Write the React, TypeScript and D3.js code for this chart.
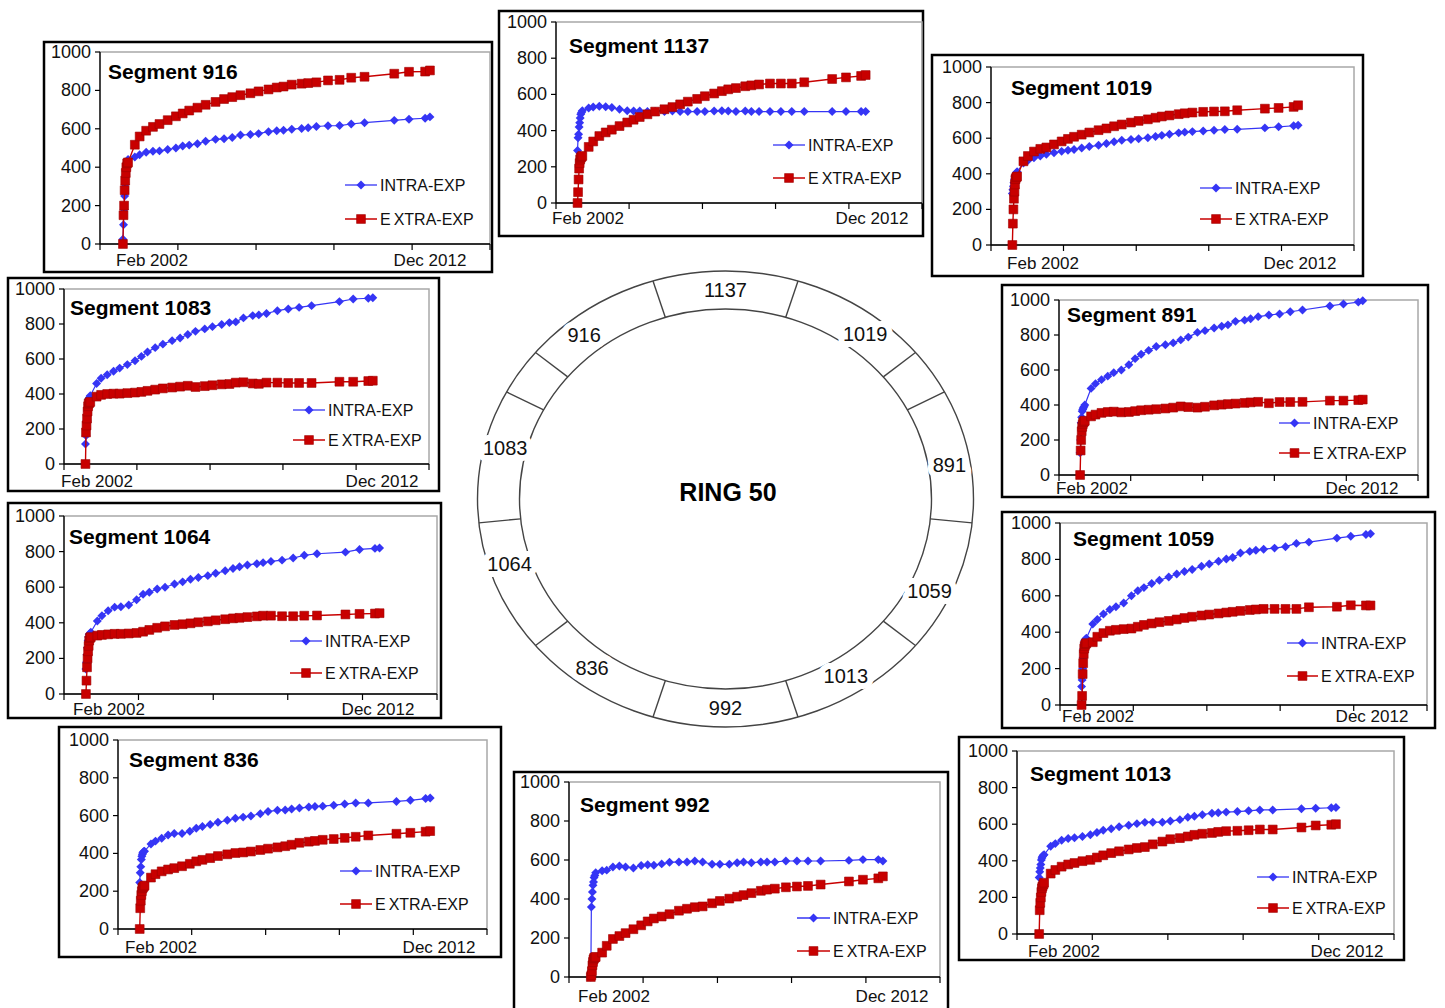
import React from 'react';
import * as d3 from 'd3';

// survey dates (decimal years), shared by every segment
const dates = [
  2002.08, 2002.10, 2002.12, 2002.14, 2002.16, 2002.18, 2002.20, 2002.23, 2002.26,
  2002.50, 2002.67, 2002.90, 2003.14, 2003.37, 2003.66, 2003.95, 2004.19, 2004.42, 2004.71,
  2005.00, 2005.35, 2005.65, 2005.94, 2006.23, 2006.58, 2006.87, 2007.22, 2007.51, 2007.75,
  2008.04, 2008.39, 2008.62, 2008.91, 2009.32, 2009.73, 2010.14, 2010.61, 2011.66, 2012.18,
  2012.75, 2012.92,
];

const xDomain = [2001.27, 2015.04];
const xTickYears = [2001.27, 2004.02, 2006.78, 2009.53, 2012.29, 2015.04];
const yTicks = [0, 200, 400, 600, 800, 1000];
const seriesNames = ['INTRA-EXP', 'EXTRA-EXP'];
const startLabel = 'Feb 2002';
const endLabel = 'Dec 2012';

const intra916 = [25, 100, 180, 250, 310, 360, 400, 430, 440, 453, 465, 478, 483, 485, 492, 500, 510, 515, 522, 535, 545, 548, 555, 568, 570, 575, 585, 590, 592, 598, 602, 605, 612, 616, 617, 625, 632, 644, 650, 655, 662];
const extra916 = [0, 150, 200, 280, 330, 370, 400, 420, 425, 517, 560, 590, 610, 625, 645, 665, 680, 695, 710, 725, 740, 755, 765, 775, 785, 795, 805, 815, 820, 830, 835, 838, 842, 852, 855, 866, 871, 887, 897, 898, 904];

const intra1137 = [290, 360, 380, 420, 444, 470, 490, 500, 510, 525, 530, 535, 532, 528, 518, 510, 508, 508, 505, 505, 505, 508, 505, 505, 505, 505, 508, 510, 508, 505, 508, 505, 505, 505, 505, 505, 505, 505, 505, 505, 505];
const extra1137 = [0, 60, 130, 190, 220, 240, 250, 255, 260, 310, 340, 370, 390, 405, 425, 445, 460, 475, 490, 505, 518, 530, 545, 560, 575, 590, 605, 618, 628, 635, 645, 650, 655, 660, 660, 660, 667, 685, 694, 702, 707];

const intra1019 = [290, 310, 330, 350, 370, 385, 395, 405, 411, 460, 475, 490, 500, 510, 518, 526, 532, 537, 545, 553, 560, 570, 580, 588, 593, 597, 602, 610, 616, 622, 630, 634, 637, 641, 645, 649, 650, 658, 664, 670, 673];
const extra1019 = [0, 120, 200, 260, 300, 340, 370, 380, 385, 470, 500, 525, 540, 548, 565, 582, 596, 608, 620, 632, 645, 655, 667, 677, 688, 697, 706, 715, 722, 728, 735, 740, 744, 748, 750, 751, 757, 766, 770, 776, 785];

const intra1083 = [114, 162, 200, 250, 300, 340, 371, 380, 390, 460, 490, 510, 530, 548, 568, 590, 615, 640, 665, 685, 705, 720, 740, 758, 772, 785, 797, 808, 812, 835, 848, 852, 860, 876, 886, 895, 905, 928, 943, 947, 950];
const extra1083 = [0, 180, 220, 260, 300, 330, 345, 350, 355, 385, 395, 400, 402, 402, 405, 408, 412, 418, 425, 432, 437, 442, 447, 440, 445, 450, 455, 457, 465, 467, 460, 458, 465, 465, 463, 463, 463, 470, 470, 474, 476];

const intra891 = [127, 200, 298, 330, 364, 375, 383, 390, 400, 495, 522, 545, 565, 585, 600, 630, 665, 690, 712, 734, 744, 755, 772, 788, 815, 825, 840, 850, 858, 878, 885, 893, 905, 914, 920, 933, 943, 966, 977, 988, 996];
const extra891 = [0, 140, 200, 250, 275, 290, 300, 305, 310, 335, 345, 355, 360, 362, 358, 360, 365, 370, 373, 376, 380, 385, 392, 388, 385, 390, 398, 402, 405, 408, 412, 415, 418, 410, 417, 417, 418, 425, 425, 428, 431];

const intra1064 = [140, 178, 220, 260, 300, 320, 335, 340, 347, 410, 440, 468, 488, 490, 500, 530, 560, 572, 590, 600, 618, 630, 645, 655, 665, 678, 692, 705, 715, 725, 732, 738, 745, 752, 764, 779, 788, 797, 812, 818, 820];
const extra1064 = [0, 75, 150, 200, 240, 270, 300, 315, 320, 328, 332, 335, 338, 338, 340, 343, 350, 360, 372, 380, 388, 392, 397, 403, 408, 414, 420, 425, 428, 432, 436, 440, 440, 437, 437, 440, 441, 447, 450, 452, 454];

const intra1059 = [101, 138, 200, 260, 310, 340, 355, 362, 367, 445, 470, 500, 525, 540, 560, 600, 628, 645, 668, 685, 703, 720, 733, 745, 762, 775, 790, 802, 810, 835, 844, 850, 856, 862, 870, 888, 895, 917, 927, 937, 941];
const extra1059 = [0, 50, 170, 230, 280, 310, 325, 335, 340, 345, 375, 395, 408, 413, 417, 420, 430, 440, 448, 455, 462, 470, 478, 485, 492, 497, 503, 508, 512, 517, 522, 525, 528, 528, 528, 528, 537, 540, 548, 547, 547];

const intra836 = [246, 298, 330, 368, 385, 395, 405, 410, 412, 450, 465, 480, 497, 505, 505, 517, 533, 542, 553, 565, 575, 586, 592, 598, 610, 622, 628, 630, 635, 640, 645, 648, 650, 655, 661, 667, 667, 675, 681, 690, 693];
const extra836 = [0, 110, 150, 180, 200, 215, 220, 225, 230, 272, 290, 305, 315, 322, 332, 345, 358, 366, 375, 386, 395, 402, 405, 410, 418, 425, 432, 438, 446, 456, 462, 466, 472, 476, 482, 488, 495, 504, 509, 515, 518];

const intra992 = [0, 359, 400, 436, 470, 487, 510, 521, 535, 545, 548, 564, 569, 564, 559, 572, 576, 573, 580, 588, 590, 590, 595, 590, 578, 578, 578, 586, 590, 586, 590, 590, 590, 595, 595, 595, 595, 598, 602, 602, 595];
const extra992 = [0, 9, 30, 60, 77, 90, 97, 100, 103, 125, 160, 195, 210, 225, 245, 265, 285, 300, 310, 322, 340, 350, 358, 362, 378, 390, 402, 412, 420, 430, 442, 448, 453, 460, 464, 467, 474, 490, 499, 506, 516];

const intra1013 = [309, 340, 360, 380, 405, 415, 424, 430, 433, 480, 494, 512, 522, 526, 533, 542, 555, 567, 575, 586, 594, 603, 610, 611, 611, 617, 625, 638, 643, 652, 660, 663, 666, 669, 673, 678, 678, 684, 687, 690, 691];
const extra1013 = [0, 130, 170, 200, 230, 250, 260, 270, 280, 330, 350, 368, 380, 388, 398, 405, 418, 430, 442, 452, 462, 470, 475, 490, 505, 518, 524, 533, 542, 548, 552, 558, 562, 564, 567, 571, 571, 582, 593, 597, 600];

const segments = [
  { id: '916', intra: intra916, extra: extra916 },
  { id: '1137', intra: intra1137, extra: extra1137 },
  { id: '1019', intra: intra1019, extra: extra1019 },
  { id: '1083', intra: intra1083, extra: extra1083 },
  { id: '891', intra: intra891, extra: extra891 },
  { id: '1064', intra: intra1064, extra: extra1064 },
  { id: '1059', intra: intra1059, extra: extra1059 },
  { id: '836', intra: intra836, extra: extra836 },
  { id: '992', intra: intra992, extra: extra992 },
  { id: '1013', intra: intra1013, extra: extra1013 },
];

// ring: segment label and angle of label (parametric, degrees)
const ringLabels = [
  { id: '1137', a: -90 }, { id: '1019', a: -52 }, { id: '891', a: -9.5 }, { id: '1059', a: 26 },
  { id: '1013', a: 58 }, { id: '992', a: 90 }, { id: '836', a: 126 }, { id: '1064', a: 162 },
  { id: '1083', a: -166 }, { id: '916', a: -128.5 },
];
const ringDividers = [-107, -73, -140, -40, -152, -28, 174, 6, 140, 40, 107, 73];

// layout of each small chart: box, plot [x0,x1,top,bottom], title, legend, date labels
const layout = {
  '916': { box: [44, 42, 492, 272], plot: [100, 490, 52, 244], title: [108, 79], legend: [345, 377, 185, 219], dl: [152, 430, 266] },
  '1137': { box: [499, 11, 923, 236], plot: [556, 922, 22, 203], title: [569, 53], legend: [773, 805, 145, 178], dl: [588, 872, 224] },
  '1019': { box: [932, 55, 1363, 276], plot: [991, 1354, 67, 245], title: [1011, 95], legend: [1200, 1232, 188, 219], dl: [1043, 1300, 269] },
  '1083': { box: [8, 278, 439, 491], plot: [64, 429, 289, 464], title: [70, 315], legend: [293, 325, 410, 440], dl: [97, 382, 487] },
  '891': { box: [1002, 285, 1428, 497], plot: [1059, 1418, 300, 475], title: [1067, 322], legend: [1279, 1310, 423, 453], dl: [1092, 1362, 494] },
  '1064': { box: [8, 503, 441, 718], plot: [64, 437, 516, 694], title: [69, 544], legend: [290, 322, 641, 673], dl: [109, 378, 715] },
  '1059': { box: [1002, 512, 1435, 728], plot: [1060, 1427, 523, 705], title: [1073, 546], legend: [1287, 1318, 643, 676], dl: [1098, 1372, 722] },
  '836': { box: [59, 727, 501, 957], plot: [118, 487, 740, 929], title: [129, 767], legend: [340, 372, 871, 904], dl: [161, 439, 953] },
  '992': { box: [514, 772, 948, 1012], plot: [569, 940, 782, 977], title: [580, 812], legend: [797, 830, 918, 951], dl: [614, 892, 1002] },
  '1013': { box: [959, 737, 1404, 960], plot: [1017, 1394, 751, 934], title: [1030, 781], legend: [1257, 1289, 877, 908], dl: [1064, 1347, 957] },
};

const BLUE = '#3535f5';
const RED = '#c80000';
const FONT = '"Liberation Sans", Arial, Helvetica, sans-serif';

const diamond = d3.symbol().type(d3.symbolSquare).size(40)();
const square = d3.symbol().type(d3.symbolSquare).size(78)();

function Marker({ kind, x, y }: { kind: 'intra' | 'extra'; x: number; y: number }) {
  if (kind === 'intra') {
    return <path d={diamond!} transform={`translate(${x},${y}) rotate(45)`} fill={BLUE} />;
  }
  return <path d={square!} transform={`translate(${x},${y})`} fill={RED} stroke="#a00000" strokeWidth={0.6} />;
}

function Panel({ seg }: { seg: typeof segments[number] }) {
  const lay = (layout as any)[seg.id];
  const [bx0, by0, bx1, by1] = lay.box;
  const [px0, px1, pTop, pBot] = lay.plot;
  const x = d3.scaleLinear().domain(xDomain).range([px0, px1]);
  const y = d3.scaleLinear().domain([0, 1000]).range([pBot, pTop]);
  const line = d3.line<number>().x((_, i) => x(dates[i])).y((v) => y(v));
  const [lx0, lx1, ly1, ly2] = lay.legend;
  const lmid = (lx0 + lx1) / 2;

  return (
    <g>
      <rect x={bx0} y={by0} width={bx1 - bx0} height={by1 - by0} fill="#fff" stroke="#000" strokeWidth={2.5} />
      <rect x={px0} y={pTop} width={px1 - px0} height={pBot - pTop} fill="none" stroke="#a8a8a8" strokeWidth={1.5} />
      {/* y axis */}
      <line x1={px0} x2={px0} y1={pTop} y2={pBot} stroke="#000" strokeWidth={1.3} />
      {yTicks.map((t) => (
        <g key={t}>
          <line x1={px0 - 5} x2={px0} y1={y(t)} y2={y(t)} stroke="#000" strokeWidth={1.2} />
          <text x={px0 - 9} y={y(t) + 6} textAnchor="end" fontSize={18} fill="#111">{t}</text>
        </g>
      ))}
      {/* x axis */}
      <line x1={px0} x2={px1} y1={pBot} y2={pBot} stroke="#000" strokeWidth={1.3} />
      {xTickYears.map((t, i) => (
        <line key={i} x1={x(t)} x2={x(t)} y1={pBot} y2={pBot + 6} stroke="#000" strokeWidth={1.2} />
      ))}
      <text x={lay.dl[0]} y={lay.dl[2]} textAnchor="middle" fontSize={17} fill="#111">{startLabel}</text>
      <text x={lay.dl[1]} y={lay.dl[2]} textAnchor="middle" fontSize={17} fill="#111">{endLabel}</text>
      {/* title */}
      <text x={lay.title[0]} y={lay.title[1]} fontSize={21} fontWeight="bold" fill="#000">{`Segment ${seg.id}`}</text>
      {/* series */}
      <path d={line(seg.intra)!} fill="none" stroke={BLUE} strokeWidth={1.2} />
      {seg.intra.map((v, i) => <Marker key={'b' + i} kind="intra" x={x(dates[i])} y={y(v)} />)}
      <path d={line(seg.extra)!} fill="none" stroke={RED} strokeWidth={1.4} />
      {seg.extra.map((v, i) => <Marker key={'r' + i} kind="extra" x={x(dates[i])} y={y(v)} />)}
      {/* legend */}
      <line x1={lx0} x2={lx1} y1={ly1} y2={ly1} stroke={BLUE} strokeWidth={1.3} />
      <Marker kind="intra" x={lmid} y={ly1} />
      <text x={lx1 + 3} y={ly1 + 6} fontSize={16} fill="#111">{seriesNames[0]}</text>
      <line x1={lx0} x2={lx1} y1={ly2} y2={ly2} stroke={RED} strokeWidth={1.5} />
      <Marker kind="extra" x={lmid} y={ly2} />
      <text x={lx1 + 3} y={ly2 + 6} fontSize={16} fill="#111">
        <tspan>{seriesNames[1].slice(0, 1)}</tspan>
        <tspan dx={3}>{seriesNames[1].slice(1)}</tspan>
      </text>
    </g>
  );
}

function Ring() {
  const cx = 725.5, cy = 499;
  const outer = { rx: 248, ry: 228 };
  const inner = { rx: 206, ry: 190 };
  const mid = { rx: 227, ry: 209 };
  const rad = (a: number) => (a * Math.PI) / 180;
  return (
    <g>
      <ellipse cx={cx} cy={cy} rx={outer.rx} ry={outer.ry} fill="none" stroke="#444" strokeWidth={1.4} />
      <ellipse cx={cx} cy={cy} rx={inner.rx} ry={inner.ry} fill="none" stroke="#444" strokeWidth={1.4} />
      {ringDividers.map((a, i) => (
        <line key={i}
          x1={cx + inner.rx * Math.cos(rad(a))} y1={cy + inner.ry * Math.sin(rad(a))}
          x2={cx + outer.rx * Math.cos(rad(a))} y2={cy + outer.ry * Math.sin(rad(a))}
          stroke="#444" strokeWidth={1.4} />
      ))}
      {ringLabels.map((l) => (
        <text key={l.id}
          x={cx + mid.rx * Math.cos(rad(l.a))} y={cy + mid.ry * Math.sin(rad(l.a)) + 7}
          textAnchor="middle" fontSize={20} fill="#111"
          stroke="#fff" strokeWidth={12} paintOrder="stroke" strokeLinejoin="round">{l.id}</text>
      ))}
      <text x={728} y={501} textAnchor="middle" fontSize={25} fontWeight="bold" fill="#000">RING 50</text>
    </g>
  );
}

export default function App() {
  return (
    <svg width={1445} height={1008} viewBox="0 0 1445 1008"
      style={{ position: 'absolute', left: 0, top: 0, background: '#fff' }}
      fontFamily={FONT}>
      <rect x={0} y={0} width={1445} height={1008} fill="#fff" />
      <Ring />
      {segments.map((s) => <Panel key={s.id} seg={s} />)}
    </svg>
  );
}
